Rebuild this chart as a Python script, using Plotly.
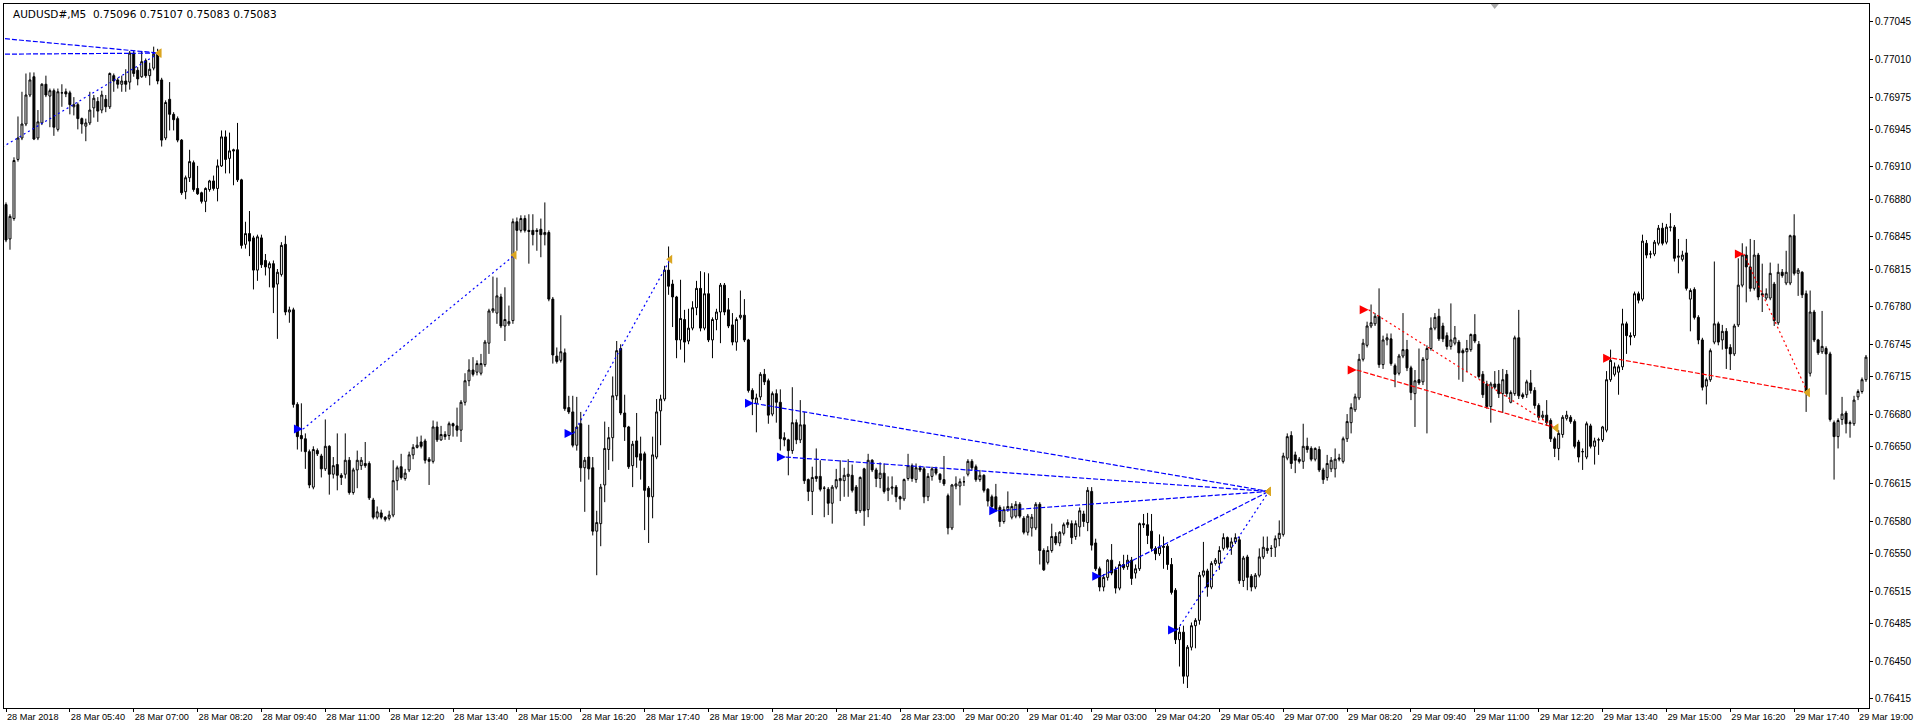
import pandas as pd
import plotly.graph_objects as go

# AUDUSD#, M5 - 5 minute bars from 28 Mar 2018 04:20
first_bar = "2018-03-28 04:20"
n_bars = 467
bar_times = pd.date_range(first_bar, periods=n_bars, freq="5min")

# prices, in 1e-5 above 0.76000
opens = [
    875, 843, 862, 917, 937, 950, 977, 994, 937, 951, 987, 976, 981, 945, 979, 980, 979, 966, 968, 955,
    948, 951, 965, 971, 963, 973, 966, 995, 991, 987, 990, 989, 1016, 1000, 994, 1009, 995, 1002, 1015, 991,
    937, 973, 959, 955, 935, 887, 900, 914, 890, 886, 878, 889, 897, 890, 911, 938, 918, 926, 926, 898,
    838, 848, 844, 814, 844, 823, 816, 820, 801, 810, 838, 775, 777, 689, 660, 657, 645, 612, 646, 641,
    629, 650, 624, 633, 623, 624, 637, 607, 628, 632, 634, 634, 600, 584, 588, 584, 583, 586, 618, 631,
    620, 628, 642, 649, 654, 655, 638, 636, 668, 656, 661, 660, 671, 669, 665, 691, 711, 721, 719, 718,
    726, 746, 776, 774, 789, 762, 764, 767, 859, 851, 862, 851, 851, 851, 852, 847, 849, 787, 734, 730,
    737, 686, 682, 651, 671, 630, 640, 630, 571, 578, 614, 647, 658, 697, 741, 681, 668, 632, 655, 643,
    643, 611, 603, 640, 683, 694, 814, 801, 789, 749, 768, 748, 760, 779, 797, 760, 792, 749, 768, 775,
    800, 777, 763, 747, 770, 772, 749, 702, 690, 696, 717, 711, 680, 699, 691, 658, 656, 646, 672, 656,
    670, 619, 608, 622, 622, 611, 610, 597, 612, 618, 618, 622, 623, 612, 590, 629, 591, 637, 628, 620,
    625, 609, 611, 612, 603, 601, 620, 632, 619, 630, 629, 603, 622, 629, 624, 619, 604, 574, 613, 613,
    617, 624, 636, 631, 619, 623, 610, 603, 603, 593, 580, 591, 584, 585, 596, 583, 570, 574, 574, 596,
    553, 542, 553, 566, 560, 569, 577, 578, 566, 575, 587, 579, 608, 560, 536, 519, 528, 544, 535, 518,
    540, 538, 544, 532, 536, 578, 577, 571, 555, 550, 557, 557, 540, 516, 470, 477, 436, 463, 483, 488,
    530, 534, 519, 541, 541, 555, 565, 556, 561, 563, 525, 547, 529, 519, 530, 547, 553, 555, 556, 564,
    568, 639, 660, 642, 638, 636, 650, 648, 638, 647, 628, 621, 629, 629, 638, 636, 657, 672, 684, 695,
    731, 744, 762, 764, 771, 726, 749, 750, 725, 718, 734, 740, 723, 699, 712, 710, 731, 741, 760, 771,
    762, 753, 743, 746, 747, 739, 738, 740, 754, 745, 717, 708, 687, 708, 708, 699, 717, 691, 699, 751,
    698, 698, 709, 702, 688, 677, 679, 674, 657, 648, 661, 676, 677, 673, 654, 645, 640, 669, 650, 656,
    656, 665, 712, 717, 719, 724, 764, 753, 753, 792, 787, 839, 829, 829, 839, 853, 840, 854, 854, 826,
    824, 830, 787, 796, 770, 749, 706, 712, 747, 764, 749, 757, 742, 736, 763, 800, 828, 817, 797, 828,
    792, 788, 788, 801, 765, 812, 802, 802, 846, 811, 812, 792, 718, 775, 749, 738, 741, 736, 672, 659,
    675, 681, 671, 671, 696, 701, 712,
]
highs = [
    877, 866, 919, 957, 980, 997, 998, 998, 963, 988, 995, 983, 983, 983, 987, 983, 981, 975, 970, 956,
    955, 980, 977, 975, 981, 977, 998, 997, 993, 995, 1001, 1018, 1018, 1003, 1018, 1011, 1007, 1022, 1020, 993,
    972, 989, 961, 957, 936, 902, 926, 916, 911, 887, 891, 898, 902, 917, 944, 944, 942, 927, 951, 899,
    859, 869, 846, 847, 847, 829, 822, 823, 815, 840, 846, 780, 779, 691, 690, 662, 647, 650, 648, 643,
    675, 651, 640, 662, 625, 662, 640, 630, 646, 640, 654, 636, 602, 594, 591, 585, 590, 637, 632, 643,
    629, 645, 652, 659, 660, 657, 640, 674, 673, 669, 664, 673, 672, 686, 693, 718, 731, 733, 730, 736,
    749, 778, 808, 807, 792, 798, 781, 862, 863, 865, 865, 866, 866, 853, 862, 877, 851, 789, 742, 772,
    741, 697, 697, 696, 682, 640, 670, 640, 590, 615, 673, 668, 715, 748, 745, 698, 669, 655, 681, 659,
    645, 613, 659, 694, 698, 818, 836, 805, 790, 805, 777, 778, 785, 804, 813, 812, 811, 770, 778, 802,
    802, 788, 774, 770, 795, 787, 750, 704, 699, 719, 722, 713, 701, 703, 703, 663, 657, 705, 675, 693,
    682, 620, 631, 648, 637, 613, 612, 614, 629, 637, 630, 638, 633, 614, 622, 630, 643, 638, 630, 635,
    634, 622, 622, 614, 604, 620, 643, 634, 634, 632, 631, 625, 631, 631, 625, 641, 606, 615, 622, 620,
    622, 638, 638, 633, 628, 624, 611, 605, 615, 595, 594, 608, 597, 599, 598, 585, 587, 587, 598, 598,
    555, 557, 578, 570, 571, 579, 582, 581, 581, 593, 590, 612, 612, 564, 538, 531, 545, 559, 538, 543,
    549, 549, 547, 540, 579, 587, 588, 587, 557, 568, 566, 559, 546, 518, 482, 483, 465, 486, 490, 533,
    561, 536, 543, 546, 557, 569, 566, 565, 569, 566, 548, 549, 531, 532, 555, 566, 566, 558, 567, 581,
    644, 662, 664, 645, 640, 671, 658, 650, 649, 650, 630, 642, 640, 648, 643, 659, 680, 690, 699, 736,
    750, 766, 782, 774, 797, 753, 755, 755, 727, 736, 774, 749, 725, 721, 741, 733, 744, 770, 774, 778,
    765, 756, 783, 762, 749, 741, 749, 755, 773, 748, 720, 711, 710, 720, 721, 722, 721, 702, 753, 777,
    700, 712, 721, 705, 690, 683, 693, 676, 659, 665, 679, 683, 679, 675, 656, 648, 673, 671, 658, 658,
    669, 720, 740, 728, 726, 778, 766, 756, 794, 794, 847, 842, 832, 842, 856, 858, 857, 867, 856, 843,
    832, 843, 797, 798, 772, 751, 714, 741, 822, 766, 763, 760, 745, 764, 825, 839, 836, 843, 842, 830,
    820, 797, 821, 803, 820, 815, 832, 847, 866, 816, 813, 795, 795, 777, 750, 776, 743, 738, 674, 676,
    696, 683, 674, 697, 703, 714, 735,
]
lows = [
    840, 833, 860, 915, 935, 948, 975, 935, 935, 949, 975, 947, 939, 943, 966, 975, 959, 958, 945, 941,
    934, 949, 956, 952, 960, 961, 964, 980, 983, 980, 980, 982, 994, 986, 993, 993, 986, 1000, 987, 929,
    935, 944, 944, 933, 884, 880, 896, 887, 884, 876, 868, 887, 888, 878, 910, 904, 904, 893, 896, 834,
    834, 827, 796, 804, 816, 809, 798, 774, 750, 808, 772, 765, 686, 647, 645, 629, 611, 610, 641, 621,
    627, 605, 620, 609, 614, 620, 605, 605, 611, 628, 630, 600, 582, 582, 582, 580, 581, 584, 609, 619,
    618, 626, 638, 648, 648, 634, 614, 634, 654, 655, 656, 656, 659, 659, 654, 688, 706, 715, 716, 716,
    724, 736, 774, 764, 760, 748, 762, 764, 832, 849, 849, 820, 837, 832, 826, 837, 785, 727, 727, 728,
    683, 680, 649, 646, 617, 589, 619, 567, 530, 557, 598, 628, 636, 693, 679, 655, 629, 612, 630, 619,
    572, 560, 583, 638, 651, 692, 791, 761, 732, 740, 728, 745, 758, 772, 757, 758, 747, 732, 758, 746,
    772, 760, 744, 739, 768, 747, 700, 679, 663, 693, 707, 671, 678, 672, 646, 650, 623, 643, 652, 653,
    615, 599, 586, 617, 608, 584, 586, 578, 610, 599, 603, 603, 607, 587, 588, 576, 584, 626, 612, 611,
    606, 599, 605, 598, 591, 599, 618, 617, 616, 626, 597, 599, 618, 623, 616, 613, 568, 572, 610, 595,
    613, 622, 628, 617, 617, 607, 594, 591, 589, 575, 578, 589, 582, 583, 583, 568, 567, 566, 572, 540,
    534, 540, 551, 558, 557, 567, 574, 559, 563, 566, 575, 571, 553, 534, 515, 515, 525, 530, 513, 516,
    535, 535, 521, 527, 534, 574, 559, 552, 544, 548, 536, 535, 512, 466, 445, 429, 425, 460, 462, 484,
    528, 510, 517, 539, 535, 553, 554, 549, 559, 522, 519, 516, 515, 517, 528, 545, 550, 547, 547, 557,
    566, 637, 629, 625, 634, 629, 644, 636, 636, 626, 615, 618, 626, 621, 636, 634, 654, 662, 682, 693,
    729, 742, 760, 762, 723, 722, 744, 725, 705, 716, 732, 720, 693, 668, 707, 707, 662, 739, 758, 748,
    747, 740, 740, 744, 712, 710, 719, 738, 746, 713, 695, 685, 672, 703, 695, 681, 696, 690, 697, 694,
    694, 695, 699, 685, 674, 675, 669, 654, 640, 637, 658, 674, 671, 648, 635, 628, 638, 648, 633, 642,
    654, 663, 710, 715, 698, 721, 736, 744, 751, 783, 785, 825, 825, 827, 837, 837, 838, 850, 822, 811,
    822, 795, 757, 768, 745, 702, 689, 710, 745, 744, 740, 722, 721, 734, 761, 798, 784, 794, 795, 786,
    775, 786, 786, 762, 763, 807, 800, 800, 809, 790, 788, 682, 715, 747, 735, 736, 698, 673, 619, 648,
    670, 662, 658, 669, 693, 699, 710,
]
closes = [
    842, 864, 916, 937, 950, 977, 991, 936, 952, 987, 977, 981, 947, 980, 979, 978, 968, 968, 955, 950,
    951, 963, 974, 962, 977, 966, 997, 990, 987, 990, 987, 1016, 997, 992, 1008, 995, 1001, 1015, 990, 935,
    970, 959, 954, 935, 886, 900, 915, 889, 885, 878, 890, 897, 890, 911, 938, 917, 925, 925, 898, 837,
    848, 841, 814, 845, 819, 817, 820, 798, 812, 837, 775, 777, 689, 659, 657, 645, 614, 647, 643, 629,
    650, 624, 632, 623, 621, 637, 607, 628, 637, 637, 632, 602, 584, 589, 584, 582, 586, 618, 630, 621,
    625, 642, 649, 651, 650, 637, 636, 668, 656, 661, 659, 671, 669, 665, 691, 711, 721, 717, 727, 727,
    747, 776, 778, 790, 762, 768, 766, 859, 851, 862, 851, 850, 847, 850, 847, 849, 787, 735, 729, 738,
    685, 682, 651, 668, 630, 637, 629, 571, 579, 612, 648, 658, 697, 739, 681, 668, 631, 652, 640, 637,
    609, 603, 642, 682, 694, 814, 799, 789, 749, 769, 747, 760, 779, 797, 760, 792, 749, 768, 775, 800,
    775, 762, 747, 768, 772, 749, 702, 694, 695, 717, 710, 679, 699, 691, 657, 656, 646, 672, 656, 670,
    618, 608, 621, 620, 610, 611, 597, 612, 619, 620, 623, 624, 609, 590, 621, 590, 637, 628, 620, 625,
    608, 611, 612, 603, 601, 619, 632, 620, 630, 628, 603, 622, 629, 625, 619, 615, 574, 614, 615, 617,
    617, 636, 630, 619, 623, 609, 599, 594, 591, 580, 591, 594, 594, 596, 585, 570, 585, 584, 596, 553,
    535, 553, 566, 560, 570, 577, 579, 565, 578, 590, 580, 609, 558, 536, 519, 528, 544, 532, 518, 540,
    537, 544, 527, 536, 578, 577, 567, 555, 550, 556, 556, 540, 514, 470, 477, 436, 463, 483, 488, 530,
    534, 519, 541, 544, 553, 565, 556, 561, 565, 525, 546, 528, 519, 530, 547, 556, 555, 555, 564, 569,
    641, 659, 634, 637, 636, 650, 647, 638, 648, 628, 619, 634, 637, 638, 639, 657, 673, 686, 696, 731,
    746, 762, 765, 771, 726, 749, 751, 727, 717, 734, 740, 723, 700, 711, 709, 731, 741, 760, 770, 750,
    750, 743, 749, 751, 737, 737, 741, 754, 748, 715, 698, 687, 708, 705, 699, 712, 699, 700, 751, 697,
    696, 710, 702, 688, 677, 679, 672, 657, 648, 662, 677, 679, 673, 650, 640, 645, 671, 650, 655, 656,
    668, 712, 730, 724, 724, 764, 753, 752, 792, 786, 841, 828, 829, 840, 853, 839, 854, 854, 825, 827,
    828, 797, 795, 770, 749, 705, 712, 739, 764, 747, 757, 741, 736, 762, 800, 828, 817, 797, 828, 789,
    791, 792, 811, 767, 812, 809, 812, 846, 811, 814, 791, 700, 775, 749, 737, 743, 736, 675, 659, 674,
    680, 671, 672, 693, 701, 712, 733,
]

# closed trades drawn from the account history
buy_open_time = ["2018-03-28 04:10", "2018-03-28 04:10", "2018-03-28 04:10", "2018-03-28 10:32",
                 "2018-03-28 16:11", "2018-03-28 19:57", "2018-03-28 20:37", "2018-03-29 01:03",
                 "2018-03-29 03:12", "2018-03-29 04:47"]
buy_open_price = [1030, 1015, 926, 666, 662, 690, 640, 590, 529, 479]
buy_close_time = ["2018-03-28 07:32", "2018-03-28 07:32", "2018-03-28 07:32", "2018-03-28 14:57",
                  "2018-03-28 18:12", "2018-03-29 06:42", "2018-03-29 06:42", "2018-03-29 06:42",
                  "2018-03-29 06:42", "2018-03-29 06:42"]
buy_close_price = [1016, 1016, 1016, 828, 824, 608, 608, 608, 608, 608]
buy_dash = ["5px,2px", "5px,2px", "2px,3px", "2px,3px", "2px,3px",
            "5px,2px", "5px,2px", "5px,2px", "5px,2px", "2px,3px"]

sell_open_time = ["2018-03-29 08:32", "2018-03-29 08:47", "2018-03-29 13:52", "2018-03-29 16:37"]
sell_open_price = [721, 777, 732, 829]
sell_close_time = ["2018-03-29 12:42", "2018-03-29 12:42", "2018-03-29 17:57", "2018-03-29 17:57"]
sell_close_price = [667, 667, 700, 700]
sell_dash = ["5px,2px", "2px,3px", "5px,2px", "2px,3px"]

# axis labels
time_ticks = pd.date_range("2018-03-28 04:20", periods=30, freq="80min")
time_labels = ["28 Mar 2018", "28 Mar 05:40", "28 Mar 07:00", "28 Mar 08:20", "28 Mar 09:40",
               "28 Mar 11:00", "28 Mar 12:20", "28 Mar 13:40", "28 Mar 15:00", "28 Mar 16:20",
               "28 Mar 17:40", "28 Mar 19:00", "28 Mar 20:20", "28 Mar 21:40", "28 Mar 23:00",
               "29 Mar 00:20", "29 Mar 01:40", "29 Mar 03:00", "29 Mar 04:20", "29 Mar 05:40",
               "29 Mar 07:00", "29 Mar 08:20", "29 Mar 09:40", "29 Mar 11:00", "29 Mar 12:20",
               "29 Mar 13:40", "29 Mar 15:00", "29 Mar 16:20", "29 Mar 17:40", "29 Mar 19:00"]
price_ticks = [0.77045, 0.77010, 0.76975, 0.76945, 0.76910, 0.76880, 0.76845, 0.76815, 0.76780, 0.76745,
               0.76715, 0.76680, 0.76650, 0.76615, 0.76580, 0.76550, 0.76515, 0.76485, 0.76450, 0.76415]
header = "AUDUSD#,M5\u00a0\u00a00.75096 0.75107 0.75083 0.75083"


def px(v):
    return [0.76 + x / 1e5 for x in v]


FONT = "Liberation Sans, Arial, sans-serif"

fig = go.Figure()
fig.add_trace(go.Candlestick(
    x=bar_times, open=px(opens), high=px(highs), low=px(lows), close=px(closes),
    increasing=dict(line=dict(color="black", width=1), fillcolor="white"),
    decreasing=dict(line=dict(color="black", width=1), fillcolor="black"),
    whiskerwidth=0, showlegend=False, hoverinfo="skip",
))


def add_trades(t0, p0, t1, p1, dashes, color):
    for a, b, c, d, dash in zip(t0, p0, t1, p1, dashes):
        fig.add_trace(go.Scatter(x=[a, c], y=px([b, d]), mode="lines",
                                 line=dict(color=color, width=1.2, dash=dash),
                                 showlegend=False, hoverinfo="skip"))
    fig.add_trace(go.Scatter(x=t0, y=px(p0), mode="markers",
                             marker=dict(symbol="arrow-right", size=9, color=color),
                             showlegend=False, hoverinfo="skip"))
    fig.add_trace(go.Scatter(x=t1, y=px(p1), mode="markers",
                             marker=dict(symbol="triangle-left", size=8, color="#DAA520"),
                             showlegend=False, hoverinfo="skip"))


add_trades(buy_open_time, buy_open_price, buy_close_time, buy_close_price, buy_dash, "#0000FF")
add_trades(sell_open_time, sell_open_price, sell_close_time, sell_close_price, sell_dash, "#FF0000")

fig.update_layout(
    width=1916, height=727,
    margin=dict(l=3, r=44, t=3, b=19),
    paper_bgcolor="white", plot_bgcolor="white",
    font=dict(family=FONT, size=10, color="black"),
    showlegend=False,
    annotations=[dict(text=header, xref="paper", yref="paper", x=0.004, y=0.997,
                      xanchor="left", yanchor="top", showarrow=False,
                      font=dict(family="DejaVu Sans, sans-serif", size=10.5, color="black"))],
    shapes=[dict(type="path", xref="paper", yref="paper",
                 path="M 0.7972,1 L 0.8015,1 L 0.7993,0.9929 Z",
                 fillcolor="#A8A8A8", line=dict(width=0))],
)
fig.update_xaxes(
    type="date",
    range=["2018-03-28 04:17:30", "2018-03-29 19:13:45"],
    rangeslider_visible=False,
    tickvals=time_ticks, ticktext=time_labels,
    ticks="outside", ticklen=3, tickcolor="black",
    ticklabelposition="outside right", ticklabeloverflow="allow",
    tickfont=dict(family=FONT, size=9.2, color="black"),
    showgrid=False, zeroline=False,
    showline=True, linecolor="black", linewidth=1, mirror=True,
)
fig.update_yaxes(
    side="right",
    range=[0.764064, 0.770617],
    tickvals=price_ticks, ticktext=["%.5f" % v for v in price_ticks],
    ticks="outside", ticklen=3, tickcolor="black",
    tickfont=dict(family=FONT, size=10, color="black"),
    showgrid=False, zeroline=False,
    showline=True, linecolor="black", linewidth=1, mirror=True,
)

fig.write_html("out.html", config={"displayModeBar": False},
               post_script="document.body.style.margin='0';document.body.style.overflow='hidden';")
